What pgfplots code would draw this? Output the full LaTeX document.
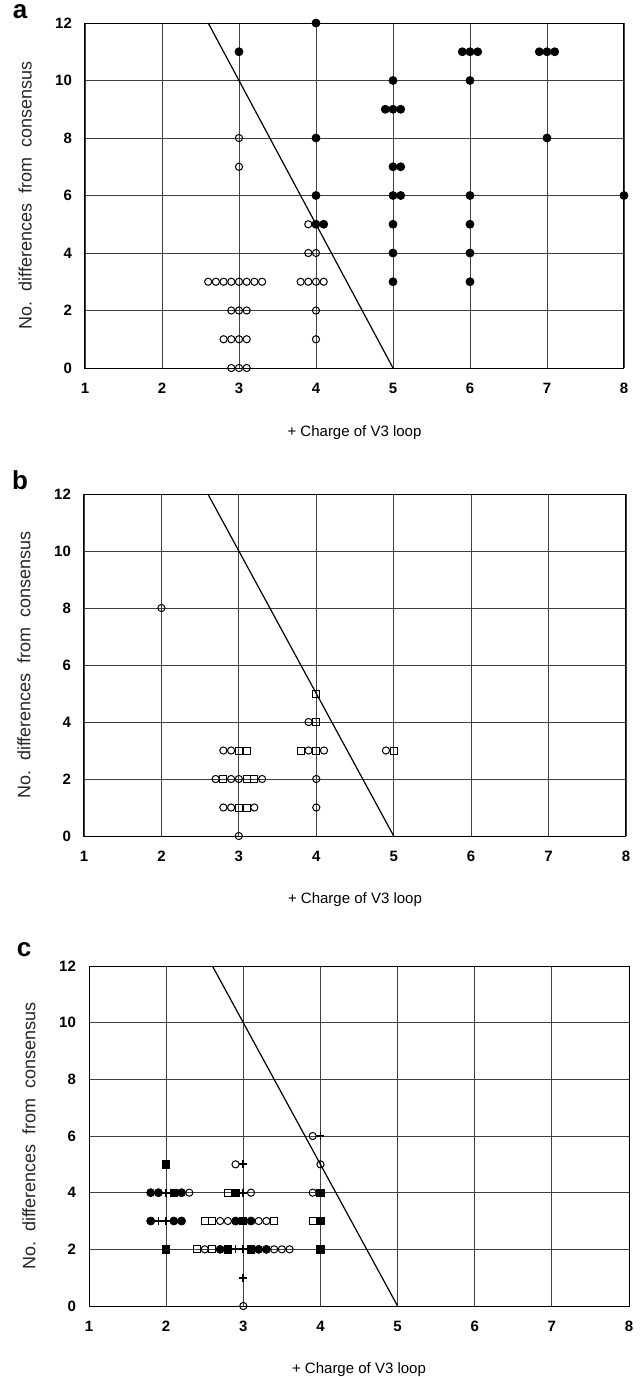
\documentclass[border=0pt]{standalone}
\usepackage{fontspec}
\setmainfont{Liberation Sans}
\usepackage{pgfplots}
\pgfplotsset{compat=1.18}

\pgfplotsset{
  panel/.style={
    scale only axis,
    xmin=1, xmax=8, ymin=0, ymax=12,
    xtick={1,...,8}, ytick={0,2,...,12},
    major tick length=0pt,
    grid=major,
    grid style={black!75, line width=0.45pt},
    axis line style={black, line width=0.5pt},
    /pgf/number format/assume math mode=true,
    ticklabel style={font=\fontsize{7.5}{8}\selectfont\bfseries},
    xticklabel style={yshift=-4pt},
    yticklabel style={xshift=-3pt},
    xlabel={+ Charge of V3 loop},
    ylabel={No.\ \ differences\ \ from\ \ consensus},
    xlabel style={font=\fontsize{7.5}{8}\selectfont, at={(axis description cs:0.5,-0.186)}, anchor=center},
    ylabel style={font=\fontsize{9}{10}\selectfont, black!85, at={(axis description cs:-0.111,0.5)}, anchor=center},
    clip=false,
  },
  fc/.style={only marks, mark=*, mark size=2pt, black},
  oc/.style={only marks, mark=o, mark size=1.8pt, black, mark options={line width=0.5pt}},
  fs/.style={only marks, mark=square*, mark size=1.8pt, black},
  os/.style={only marks, mark=square, mark size=1.75pt, black, mark options={line width=0.5pt}},
  pl/.style={only marks, mark=+, mark size=2pt, black, mark options={line width=0.9pt}},
  cut/.style={black, line width=0.6pt, mark=none},
}

\begin{document}
\begin{tikzpicture}
\useasboundingbox (0,0) rectangle (320.5pt,-688.5pt);

% ---------- panel a ----------
\node[font=\fontsize{13}{13}\selectfont\bfseries] at (10pt,-6pt) {a};
\begin{axis}[panel, at={(42.5pt,-11.5pt)}, anchor=north west, width=269.5pt, height=172.5pt]
\addplot[cut] coordinates {(2.6,12) (5,0)};
\addplot[fc] coordinates {
  (3,11) (4,12) (4,8) (4,6) (4,5) (4.1,5)
  (5,10) (4.9,9) (5,9) (5.1,9) (5,7) (5.1,7) (5,6) (5.1,6) (5,5) (5,4) (5,3)
  (5.9,11) (6,11) (6.1,11) (6,10) (6,6) (6,5) (6,4) (6,3)
  (6.9,11) (7,11) (7.1,11) (7,8) (8,6)
};
\addplot[oc] coordinates {
  (3,8) (3,7) (3.9,5) (3.9,4) (4,4)
  (2.6,3) (2.7,3) (2.8,3) (2.9,3) (3,3) (3.1,3) (3.2,3) (3.3,3)
  (3.8,3) (3.9,3) (4,3) (4.1,3)
  (2.9,2) (3,2) (3.1,2) (4,2)
  (2.8,1) (2.9,1) (3,1) (3.1,1) (4,1)
  (2.9,0) (3,0) (3.1,0)
};
\end{axis}

% ---------- panel b ----------
\node[font=\fontsize{13}{13}\selectfont\bfseries] at (10pt,-240pt) {b};
\begin{axis}[panel, at={(42pt,-247pt)}, anchor=north west, width=271pt, height=171pt]
\addplot[cut] coordinates {(2.6,12) (5,0)};
\addplot[oc] coordinates {
  (2,8) (3.9,4)
  (2.8,3) (2.9,3) (3.9,3) (4.1,3) (4.9,3)
  (2.7,2) (2.9,2) (3,2) (3.3,2) (4,2)
  (2.8,1) (2.9,1) (3.2,1) (4,1)
  (3,0)
};
\addplot[os] coordinates {
  (4,5) (4,4)
  (3,3) (3.1,3) (3.8,3) (4,3) (5,3)
  (2.8,2) (3.1,2) (3.2,2)
  (3,1) (3.1,1)
};
\end{axis}

% ---------- panel c ----------
\node[font=\fontsize{13}{13}\selectfont\bfseries] at (12pt,-475pt) {c};
\begin{axis}[panel, at={(44.5pt,-483pt)}, anchor=north west, width=270pt, height=170pt]
\addplot[cut] coordinates {(2.6,12) (5,0)};
\addplot[fc] coordinates {
  (1.8,4) (1.9,4) (2.2,4)
  (1.8,3) (2.1,3) (2.2,3) (2.9,3) (3.1,3)
  (2.7,2) (3.2,2) (3.3,2)
};
\addplot[fs] coordinates {
  (2,5) (2.1,4) (2.9,4) (4,4)
  (3,3) (4,3)
  (2,2) (2.8,2) (3.1,2) (4,2)
};
\addplot[oc] coordinates {
  (3.9,6) (2.9,5) (4,5)
  (2.3,4) (3.1,4) (3.9,4)
  (2.7,3) (2.8,3) (3.2,3) (3.3,3)
  (2.5,2) (3.4,2) (3.5,2) (3.6,2)
  (3,0)
};
\addplot[os] coordinates {
  (2.8,4)
  (2.5,3) (2.6,3) (3.4,3) (3.9,3)
  (2.4,2) (2.6,2)
};
\addplot[pl] coordinates {
  (4,6) (3,5) (2,4) (3,4)
  (1.9,3) (2,3)
  (2.9,2) (3,2)
  (3,1)
};
\end{axis}
\end{tikzpicture}
\end{document}
